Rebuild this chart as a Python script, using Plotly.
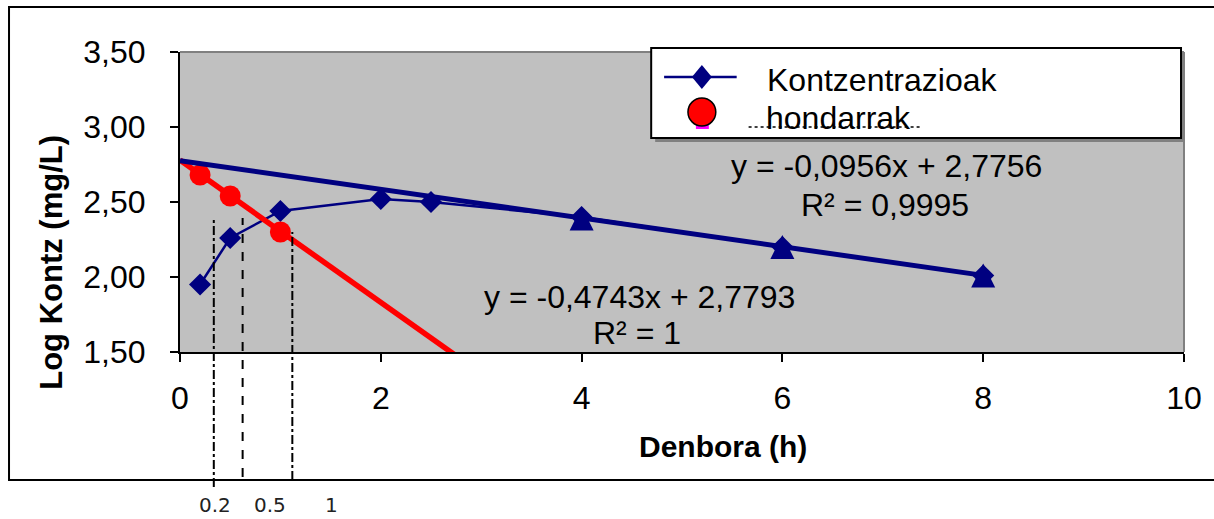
import plotly.graph_objects as go

# ---- data ----
time_h = [0.2, 0.5, 1, 2, 2.5, 4, 6, 8]
log_kontz = [1.95, 2.26, 2.44, 2.52, 2.50, 2.40, 2.20, 2.01]

elim_time = [4, 6, 8]
elim_log = [2.39, 2.20, 2.01]

hond_time = [0.2, 0.5, 1]
hond_log = [2.68, 2.54, 2.30]

elim_slope, elim_icpt = -0.0956, 2.7756
hond_slope, hond_icpt = -0.4743, 2.7793
elim_fit_x = [0, 8]
hond_fit_x = [0, 3]

x_ticks = [0, 2, 4, 6, 8, 10]
y_ticks = [1.5, 2.0, 2.5, 3.0, 3.5]
mark_labels = ["0.2", "0.5", "1"]

NAVY = "#000080"
RED = "#FF0000"
FONT = "Liberation Sans, Arial, sans-serif"

W, H = 1214, 519
L, R, T, B = 180, 24, 52, 167
PW, PH = W - L - R, H - T - B


def px(p):
    return (p - L) / PW


def py(p):
    return (H - B - p) / PH


fig = go.Figure()

fig.add_trace(go.Scatter(
    x=time_h, y=log_kontz, mode="lines+markers", name="Kontzentrazioak",
    line=dict(color=NAVY, width=2.5),
    marker=dict(symbol="diamond", size=17, color=NAVY),
    showlegend=False))

fig.add_trace(go.Scatter(
    x=hond_time, y=hond_log, mode="markers", name="hondarrak",
    marker=dict(symbol="circle", size=21, color=RED),
    showlegend=False))

fig.add_trace(go.Scatter(
    x=hond_fit_x, y=[hond_icpt + hond_slope * v for v in hond_fit_x],
    mode="lines", line=dict(color=RED, width=5.5), showlegend=False,
    hoverinfo="skip"))

fig.add_trace(go.Scatter(
    x=elim_fit_x, y=[elim_icpt + elim_slope * v for v in elim_fit_x],
    mode="lines", line=dict(color=NAVY, width=5), showlegend=False,
    hoverinfo="skip"))

# upward triangle centred on the point (arrow-down rotated 180 deg, shifted by standoff)
fig.add_trace(go.Scatter(
    x=elim_time, y=elim_log, mode="markers", name="eliminazioa",
    marker=dict(symbol="arrow-down", size=24, angle=180, standoff=12, color=NAVY,
                line=dict(width=0)),
    showlegend=False))

shapes = []
# plot area top / right grey border
shapes.append(dict(type="line", xref="paper", yref="paper", x0=0, x1=1, y0=1, y1=1,
                   line=dict(color="#808080", width=2)))
shapes.append(dict(type="line", xref="paper", yref="paper", x0=1, x1=1, y0=0, y1=1,
                   line=dict(color="#808080", width=2)))
# outer chart frame
shapes.append(dict(type="rect", xref="paper", yref="paper",
                   x0=px(8), x1=px(1222), y0=py(480), y1=py(7),
                   line=dict(color="black", width=2)))
# vertical marker lines
vlines = [(214, 218, 487, "dashdot"), (243, 218, 477, "dash"), (293, 232, 480, "dashdot")]
for xp, yt, yb, dsh in vlines:
    shapes.append(dict(type="line", xref="paper", yref="paper",
                       x0=px(xp), x1=px(xp), y0=py(yb), y1=py(yt),
                       line=dict(color="black", width=2, dash=dsh)))
# legend box with shadow
shapes.append(dict(type="rect", xref="paper", yref="paper",
                   x0=px(658), x1=px(1191), y0=py(142), y1=py(52),
                   fillcolor="#808080", line=dict(width=0)))
shapes.append(dict(type="rect", xref="paper", yref="paper",
                   x0=px(654), x1=px(1187), y0=py(138), y1=py(48),
                   fillcolor="white", line=dict(color="black", width=2)))
# legend symbol 1: line + diamond
shapes.append(dict(type="line", xref="paper", yref="paper",
                   x0=px(667), x1=px(740), y0=py(77), y1=py(77),
                   line=dict(color=NAVY, width=2.5)))
cx, cy = 705, 77
shapes.append(dict(type="path", xref="paper", yref="paper",
                   path=f"M{px(cx-10)},{py(cy)} L{px(cx)},{py(cy-12)} L{px(cx+10)},{py(cy)} L{px(cx)},{py(cy+12)} Z",
                   fillcolor=NAVY, line=dict(color=NAVY, width=0)))
# legend symbol 2: red circle (with small magenta artefact)
shapes.append(dict(type="rect", xref="paper", yref="paper",
                   x0=px(699), x1=px(712), y0=py(129), y1=py(120),
                   fillcolor="#FF00FF", line=dict(width=0)))
shapes.append(dict(type="circle", xref="paper", yref="paper",
                   x0=px(691), x1=px(719), y0=py(126), y1=py(98),
                   fillcolor=RED, line=dict(color="black", width=1.5)))
shapes.append(dict(type="line", xref="paper", yref="paper",
                   x0=px(752), x1=px(925), y0=py(127), y1=py(127),
                   line=dict(color="black", width=1.5, dash="dot")))

annotations = []


def ann(text, xp, yp, size, bold=False, angle=0, font=FONT, color="black",
        xanchor="center", yanchor="middle"):
    annotations.append(dict(
        text=f"<b>{text}</b>" if bold else text, xref="paper", yref="paper",
        x=px(xp), y=py(yp), xanchor=xanchor, yanchor=yanchor, showarrow=False,
        textangle=angle, borderpad=0, font=dict(family=font, size=size, color=color)))


ann("Kontzentrazioak", 770, 80, 32, xanchor="left")
ann("hondarrak", 768, 118, 32, xanchor="left")
ann("y = -0,0956x + 2,7756", 891, 166, 32)
ann("R² = 0,9995", 889, 205, 32)
ann("y = -0,4743x + 2,7793", 642, 297, 32)
ann("R² = 1", 640, 333, 32)
ann("Log Kontz (mg/L)", 50, 262, 31, bold=True, angle=-90)
ann("Denbora (h)", 726, 446, 30, bold=True)
for lab, xp in zip(mark_labels, [215, 271, 332]):
    ann(lab, xp, 518, 20, font="DejaVu Sans", color="#222222", yanchor="bottom")

fig.update_layout(
    width=W, height=H,
    margin=dict(l=L, r=R, t=T, b=B, pad=0),
    paper_bgcolor="white", plot_bgcolor="#C0C0C0",
    separators=",.",
    showlegend=False,
    shapes=shapes, annotations=annotations,
    font=dict(family=FONT, color="black"),
)
fig.update_xaxes(
    range=[0, 10], tickvals=x_ticks, showgrid=False, zeroline=False,
    showline=True, linecolor="black", linewidth=2,
    ticks="outside", ticklen=8, tickwidth=2, tickcolor="black",
    tickfont=dict(size=32, family=FONT), ticklabelstandoff=9)
fig.update_yaxes(
    range=[1.5, 3.5], tickvals=y_ticks, tickformat=".2f", showgrid=False, zeroline=False,
    showline=True, linecolor="black", linewidth=2,
    ticks="outside", ticklen=8, tickwidth=2, tickcolor="black",
    tickfont=dict(size=32, family=FONT), ticklabelstandoff=18)

fig.write_html("out.html")
